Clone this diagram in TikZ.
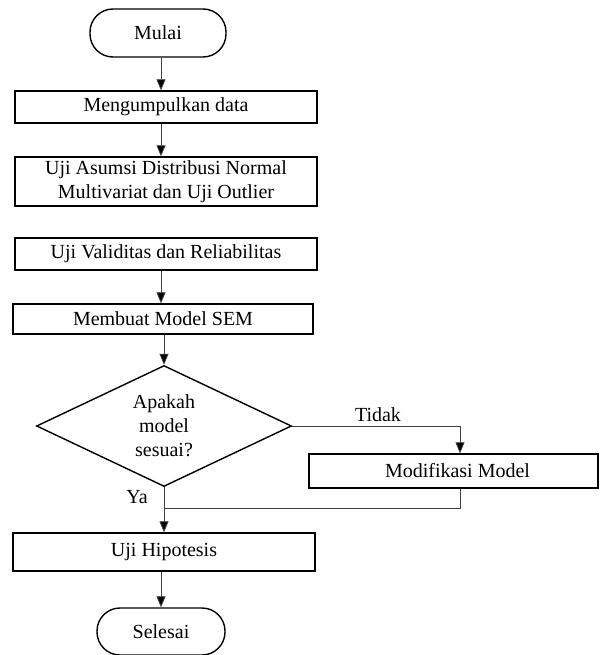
\documentclass[tikz,border=0pt]{standalone}
\usepackage{fontspec}
\setmainfont{Liberation Serif}
\usetikzlibrary{shapes.geometric,arrows.meta,calc}
\begin{document}
\begin{tikzpicture}[x=1pt,y=-1pt,
  font=\fontsize{20}{24}\selectfont,
  box/.style={draw=black,line width=1.4pt,rectangle,inner sep=0pt,align=center},
  term/.style={draw=black,line width=1.4pt,rectangle,rounded corners=23pt,inner sep=0pt},
  dec/.style={draw=black,line width=1.4pt,diamond,aspect=2.1,inner sep=0pt,align=center,minimum width=255pt,minimum height=121pt},
  conn/.style={draw=black!75,line width=0.8pt},
  arr/.style={conn,-{Triangle[length=11pt,width=9pt,fill=black]}}
]
\useasboundingbox (0,0) rectangle (600,655);
\coordinate (col) at (161,0);
\node[term,minimum width=136pt,minimum height=48pt] (mulai) at (158,33) {Mulai};
\node[box,minimum width=302pt,minimum height=32pt] (b1) at (166,107) {Mengumpulkan data};
\node[box,minimum width=302pt,minimum height=49pt] (b2) at (166,181.5) {Uji Asumsi Distribusi Normal\\Multivariat dan Uji Outlier};
\node[box,minimum width=302pt,minimum height=32pt] (b3) at (166,254) {Uji Validitas dan Reliabilitas};
\node[box,minimum width=300pt,minimum height=30pt] (b4) at (163,319) {Membuat Model SEM};
\node[dec] (dia) at (164,426) {Apakah\\model\\sesuai?};
\node[box,minimum width=289pt,minimum height=34pt] (modif) at (453.5,471) {\hspace*{8pt}Modifikasi Model};
\node[box,minimum width=302pt,minimum height=38pt] (b5) at (164,552) {Uji Hipotesis};
\node[term,minimum width=128pt,minimum height=47pt] (sel) at (161,631.5) {Selesai};
\node (tidak) at (378,415) {Tidak};
\node (ya) at (137,497) {Ya};
\coordinate (tc) at (460,426);
\coordinate (rc) at (460,508);
\draw[arr] (mulai.south -| col) -- (b1.north -| col);
\draw[arr] (b1.south -| col) -- (b2.north -| col);
\draw[arr] (b3.south -| col) -- (b4.north -| col);
\draw[arr] (b4.south -| dia.north) -- (dia.north);
\draw[conn] (dia.east) -- (tc);
\draw[arr] (tc) -- (tc |- modif.north);
\draw[conn] (rc |- modif.south) -- (rc) -- (rc -| dia.south);
\draw[arr] (dia.south) -- (b5.north -| dia.south);
\draw[arr] (b5.south -| col) -- (sel.north -| col);
\end{tikzpicture}
\end{document}
